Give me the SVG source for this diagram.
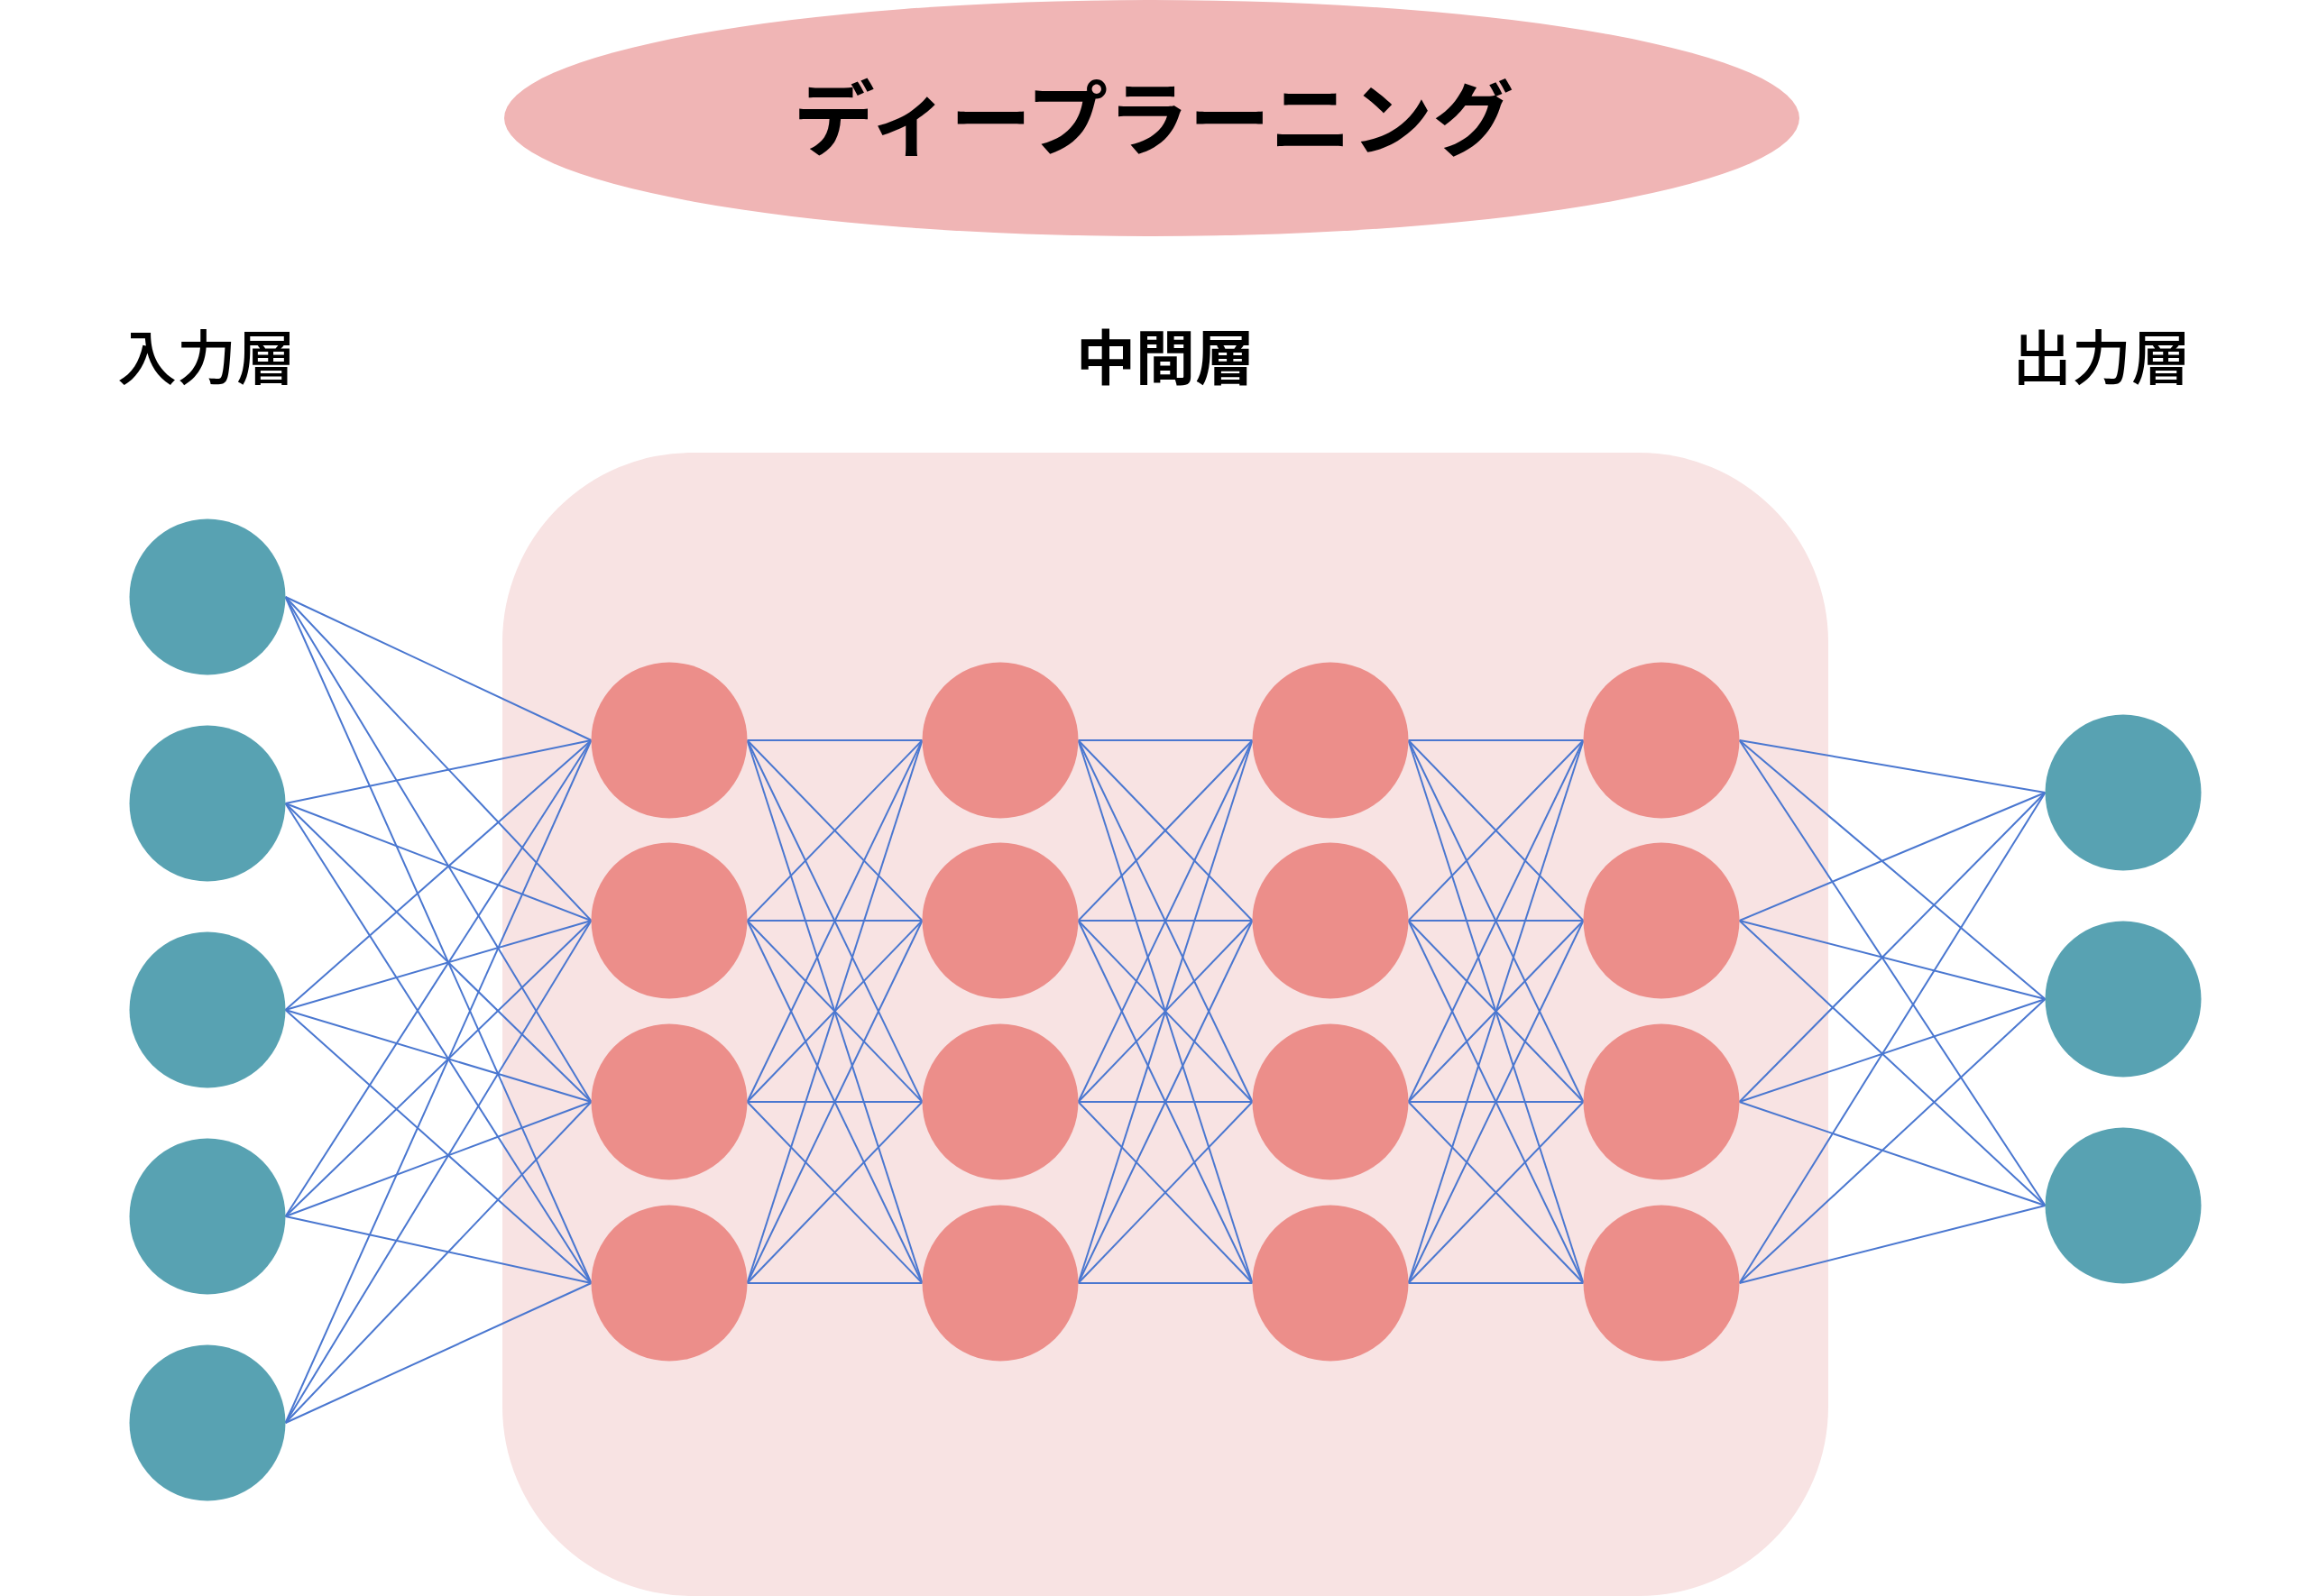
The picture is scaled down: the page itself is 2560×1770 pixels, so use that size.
<svg xmlns="http://www.w3.org/2000/svg" width="2560" height="1770" viewBox="0 0 2560 1770">
<style>
.bg{fill:#FFFFFF}
.title-bg{fill:#F0B5B5}
.mid-bg{fill:#F8E3E3}
.in{fill:#58A2B2}
.out{fill:#58A2B2}
.hid{fill:#EC8E8A}
.c line{stroke:#4A77D0;stroke-width:2;fill:none}
.t{font-family:"Noto Sans CJK JP","Noto Sans CJK SC",sans-serif;fill:#000000;text-anchor:middle}
.title{font-size:90px;font-weight:700}
.lbl{font-size:66px;font-weight:500}
.lblb{font-size:66px;font-weight:700}
</style>
<rect class="bg" x="0" y="0" width="2560" height="1770"/>
<g id="title">
<ellipse class="title-bg" cx="1277" cy="131" rx="718" ry="131"/>
<text class="t title" x="1279" y="165">ディープラーニング</text>
</g>
<g id="label-input"><text class="t lbl" x="229" y="421">入力層</text></g>
<g id="label-hidden"><text class="t lblb" x="1292" y="421">中間層</text></g>
<g id="label-output"><text class="t lbl" x="2330" y="421">出力層</text></g>
<g id="hidden-area"><rect class="mid-bg" x="557" y="502" width="1470" height="1268" rx="210" ry="210"/></g>
<g id="connectors" class="c">
<line x1="316.5" y1="662" x2="655.5" y2="821"/><line x1="316.5" y1="662" x2="655.5" y2="1021"/><line x1="316.5" y1="662" x2="655.5" y2="1222"/><line x1="316.5" y1="662" x2="655.5" y2="1423"/>
<line x1="316.5" y1="891" x2="655.5" y2="821"/><line x1="316.5" y1="891" x2="655.5" y2="1021"/><line x1="316.5" y1="891" x2="655.5" y2="1222"/><line x1="316.5" y1="891" x2="655.5" y2="1423"/>
<line x1="316.5" y1="1120" x2="655.5" y2="821"/><line x1="316.5" y1="1120" x2="655.5" y2="1021"/><line x1="316.5" y1="1120" x2="655.5" y2="1222"/><line x1="316.5" y1="1120" x2="655.5" y2="1423"/>
<line x1="316.5" y1="1349" x2="655.5" y2="821"/><line x1="316.5" y1="1349" x2="655.5" y2="1021"/><line x1="316.5" y1="1349" x2="655.5" y2="1222"/><line x1="316.5" y1="1349" x2="655.5" y2="1423"/>
<line x1="316.5" y1="1578" x2="655.5" y2="821"/><line x1="316.5" y1="1578" x2="655.5" y2="1021"/><line x1="316.5" y1="1578" x2="655.5" y2="1222"/><line x1="316.5" y1="1578" x2="655.5" y2="1423"/>
<line x1="828.5" y1="821" x2="1022.5" y2="821"/><line x1="828.5" y1="821" x2="1022.5" y2="1021"/><line x1="828.5" y1="821" x2="1022.5" y2="1222"/><line x1="828.5" y1="821" x2="1022.5" y2="1423"/>
<line x1="828.5" y1="1021" x2="1022.5" y2="821"/><line x1="828.5" y1="1021" x2="1022.5" y2="1021"/><line x1="828.5" y1="1021" x2="1022.5" y2="1222"/><line x1="828.5" y1="1021" x2="1022.5" y2="1423"/>
<line x1="828.5" y1="1222" x2="1022.5" y2="821"/><line x1="828.5" y1="1222" x2="1022.5" y2="1021"/><line x1="828.5" y1="1222" x2="1022.5" y2="1222"/><line x1="828.5" y1="1222" x2="1022.5" y2="1423"/>
<line x1="828.5" y1="1423" x2="1022.5" y2="821"/><line x1="828.5" y1="1423" x2="1022.5" y2="1021"/><line x1="828.5" y1="1423" x2="1022.5" y2="1222"/><line x1="828.5" y1="1423" x2="1022.5" y2="1423"/>
<line x1="1195.5" y1="821" x2="1388.5" y2="821"/><line x1="1195.5" y1="821" x2="1388.5" y2="1021"/><line x1="1195.5" y1="821" x2="1388.5" y2="1222"/><line x1="1195.5" y1="821" x2="1388.5" y2="1423"/>
<line x1="1195.5" y1="1021" x2="1388.5" y2="821"/><line x1="1195.5" y1="1021" x2="1388.5" y2="1021"/><line x1="1195.5" y1="1021" x2="1388.5" y2="1222"/><line x1="1195.5" y1="1021" x2="1388.5" y2="1423"/>
<line x1="1195.5" y1="1222" x2="1388.5" y2="821"/><line x1="1195.5" y1="1222" x2="1388.5" y2="1021"/><line x1="1195.5" y1="1222" x2="1388.5" y2="1222"/><line x1="1195.5" y1="1222" x2="1388.5" y2="1423"/>
<line x1="1195.5" y1="1423" x2="1388.5" y2="821"/><line x1="1195.5" y1="1423" x2="1388.5" y2="1021"/><line x1="1195.5" y1="1423" x2="1388.5" y2="1222"/><line x1="1195.5" y1="1423" x2="1388.5" y2="1423"/>
<line x1="1561.5" y1="821" x2="1755.5" y2="821"/><line x1="1561.5" y1="821" x2="1755.5" y2="1021"/><line x1="1561.5" y1="821" x2="1755.5" y2="1222"/><line x1="1561.5" y1="821" x2="1755.5" y2="1423"/>
<line x1="1561.5" y1="1021" x2="1755.5" y2="821"/><line x1="1561.5" y1="1021" x2="1755.5" y2="1021"/><line x1="1561.5" y1="1021" x2="1755.5" y2="1222"/><line x1="1561.5" y1="1021" x2="1755.5" y2="1423"/>
<line x1="1561.5" y1="1222" x2="1755.5" y2="821"/><line x1="1561.5" y1="1222" x2="1755.5" y2="1021"/><line x1="1561.5" y1="1222" x2="1755.5" y2="1222"/><line x1="1561.5" y1="1222" x2="1755.5" y2="1423"/>
<line x1="1561.5" y1="1423" x2="1755.5" y2="821"/><line x1="1561.5" y1="1423" x2="1755.5" y2="1021"/><line x1="1561.5" y1="1423" x2="1755.5" y2="1222"/><line x1="1561.5" y1="1423" x2="1755.5" y2="1423"/>
<line x1="1928.5" y1="821" x2="2267.5" y2="879"/><line x1="1928.5" y1="821" x2="2267.5" y2="1108"/><line x1="1928.5" y1="821" x2="2267.5" y2="1337"/>
<line x1="1928.5" y1="1021" x2="2267.5" y2="879"/><line x1="1928.5" y1="1021" x2="2267.5" y2="1108"/><line x1="1928.5" y1="1021" x2="2267.5" y2="1337"/>
<line x1="1928.5" y1="1222" x2="2267.5" y2="879"/><line x1="1928.5" y1="1222" x2="2267.5" y2="1108"/><line x1="1928.5" y1="1222" x2="2267.5" y2="1337"/>
<line x1="1928.5" y1="1423" x2="2267.5" y2="879"/><line x1="1928.5" y1="1423" x2="2267.5" y2="1108"/><line x1="1928.5" y1="1423" x2="2267.5" y2="1337"/>
</g>
<g id="in1"><circle class="in" cx="230" cy="662" r="86.5"/></g>
<g id="in2"><circle class="in" cx="230" cy="891" r="86.5"/></g>
<g id="in3"><circle class="in" cx="230" cy="1120" r="86.5"/></g>
<g id="in4"><circle class="in" cx="230" cy="1349" r="86.5"/></g>
<g id="in5"><circle class="in" cx="230" cy="1578" r="86.5"/></g>
<g id="h1-1"><circle class="hid" cx="742" cy="821" r="86.5"/></g>
<g id="h1-2"><circle class="hid" cx="742" cy="1021" r="86.5"/></g>
<g id="h1-3"><circle class="hid" cx="742" cy="1222" r="86.5"/></g>
<g id="h1-4"><circle class="hid" cx="742" cy="1423" r="86.5"/></g>
<g id="h2-1"><circle class="hid" cx="1109" cy="821" r="86.5"/></g>
<g id="h2-2"><circle class="hid" cx="1109" cy="1021" r="86.5"/></g>
<g id="h2-3"><circle class="hid" cx="1109" cy="1222" r="86.5"/></g>
<g id="h2-4"><circle class="hid" cx="1109" cy="1423" r="86.5"/></g>
<g id="h3-1"><circle class="hid" cx="1475" cy="821" r="86.5"/></g>
<g id="h3-2"><circle class="hid" cx="1475" cy="1021" r="86.5"/></g>
<g id="h3-3"><circle class="hid" cx="1475" cy="1222" r="86.5"/></g>
<g id="h3-4"><circle class="hid" cx="1475" cy="1423" r="86.5"/></g>
<g id="h4-1"><circle class="hid" cx="1842" cy="821" r="86.5"/></g>
<g id="h4-2"><circle class="hid" cx="1842" cy="1021" r="86.5"/></g>
<g id="h4-3"><circle class="hid" cx="1842" cy="1222" r="86.5"/></g>
<g id="h4-4"><circle class="hid" cx="1842" cy="1423" r="86.5"/></g>
<g id="out1"><circle class="out" cx="2354" cy="879" r="86.5"/></g>
<g id="out2"><circle class="out" cx="2354" cy="1108" r="86.5"/></g>
<g id="out3"><circle class="out" cx="2354" cy="1337" r="86.5"/></g>
</svg>
